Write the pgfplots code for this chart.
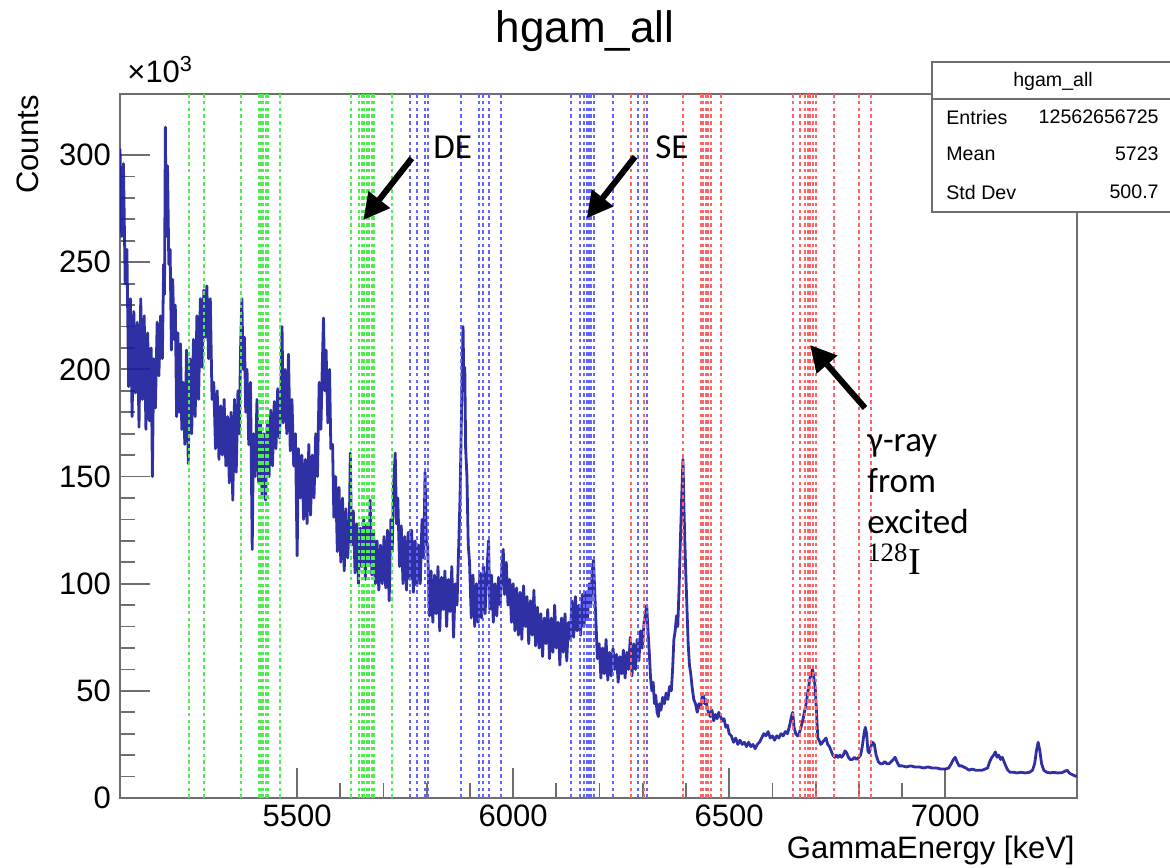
\documentclass[border=0pt]{standalone}
\usepackage{pgfplots}
\pgfplotsset{compat=1.18}
\usepackage{fontspec}
\setmainfont{Liberation Sans}
\newfontfamily\calibri{Carlito}
\newfontfamily\serifI{Liberation Serif}
\usetikzlibrary{arrows.meta}
\definecolor{histblue}{RGB}{26,26,155}
\definecolor{lgreen}{RGB}{80,235,80}
\definecolor{lblue}{RGB}{100,100,255}
\definecolor{lred}{RGB}{255,100,100}
\definecolor{framegray}{RGB}{110,110,110}
\begin{document}
\begin{tikzpicture}
\useasboundingbox (0,0) rectangle (585pt,-433.5pt);
\begin{axis}[
  at={(60pt,-399pt)}, anchor=south west,
  scale only axis, width=478.5pt, height=352pt,
  xmin=5090, xmax=7305, ymin=0, ymax=328.5,
  xtick={5500,6000,6500,7000}, minor x tick num=4,
  ytick={0,50,100,150,200,250,300}, minor y tick num=4,
  xtick pos=bottom, ytick pos=left, tick align=inside,
  major tick length=15pt, minor tick length=7.5pt,
  every tick/.style={framegray, line width=0.9pt},
  axis line style={framegray, line width=1pt},
  scaled ticks=false,
  /pgf/number format/assume math mode=true,
  /pgf/number format/1000 sep={},
  tick label style={font=\fontsize{15.5}{18}\selectfont},
  xticklabel style={yshift=0pt},
  yticklabel style={xshift=-1pt},
  clip=true,
]
\addplot[color=histblue, line width=1.4pt, opacity=0.9, mark=none, line join=round] coordinates {
(5090,303)(5094,262)(5098,296)(5102,240)(5106,256)(5110,192)(5114,233)(5118,178)(5122,227)(5126,189)
(5130,222)(5134,173)(5138,233)(5142,186)(5146,225)(5150,172)(5154,217)(5158,176)(5162,210)(5165,150)
(5168,205)(5172,182)(5176,222)(5180,197)(5184,225)(5188,205)(5191,249)(5193,235)(5195,313)(5197,262)
(5200,295)(5203,249)(5206,256)(5209,209)(5212,242)(5215,214)(5218,230)(5221,178)(5224,217)(5227,180)
(5230,212)(5233,172)(5236,194)(5240,165)(5244,209)(5248,156)(5252,205)(5256,170)(5260,214)(5264,178)
(5268,225)(5272,186)(5276,233)(5280,201)(5284,237)(5288,215)(5291,239)(5295,205)(5299,233)(5303,186)
(5307,194)(5311,163)(5315,190)(5319,158)(5323,183)(5327,160)(5331,186)(5335,155)(5339,178)(5343,147)
(5347,180)(5351,139)(5355,186)(5359,152)(5363,190)(5366,170)(5369,209)(5372,233)(5375,200)(5378,215)
(5381,180)(5384,200)(5388,165)(5392,194)(5396,116)(5399,170)(5403,150)(5407,186)(5411,147)(5415,175)
(5419,140)(5423,170)(5427,139)(5431,176)(5435,150)(5439,181)(5443,155)(5447,185)(5451,163)(5455,191)
(5459,168)(5462,185)(5465,220)(5468,175)(5472,200)(5476,170)(5480,207)(5484,162)(5488,186)(5492,155)
(5496,170)(5500,113)(5503,163)(5507,140)(5511,160)(5515,130)(5519,158)(5523,128)(5527,165)(5531,132)
(5535,160)(5539,140)(5543,170)(5547,150)(5551,194)(5555,172)(5558,200)(5561,224)(5564,190)(5567,209)
(5571,175)(5575,200)(5578,163)(5582,165)(5585,131)(5589,150)(5593,115)(5597,145)(5601,110)(5605,140)
(5609,106)(5613,135)(5617,112)(5621,130)(5623,161)(5626,118)(5630,134)(5634,105)(5638,128)(5642,100)
(5646,126)(5650,108)(5654,130)(5658,102)(5662,128)(5666,110)(5669,139)(5673,104)(5677,124)(5681,100)
(5685,120)(5689,97)(5693,118)(5697,100)(5701,122)(5705,98)(5709,125)(5713,92)(5717,130)(5720,115)
(5723,145)(5727,161)(5730,128)(5733,140)(5737,108)(5741,127)(5745,100)(5749,122)(5753,97)(5757,124)
(5761,102)(5765,125)(5769,96)(5773,120)(5777,99)(5781,118)(5785,100)(5789,130)(5793,112)(5796,152)
(5799,120)(5802,118)(5806,85)(5810,106)(5814,82)(5818,104)(5822,86)(5826,108)(5830,78)(5834,103)
(5838,88)(5842,106)(5846,80)(5850,102)(5854,87)(5858,108)(5862,75)(5866,100)(5870,90)(5874,118)
(5877,140)(5880,175)(5882,200)(5884,220)(5886,190)(5888,201)(5890,163)(5893,150)(5896,118)(5899,110)
(5903,84)(5907,104)(5911,80)(5915,100)(5919,82)(5923,105)(5927,84)(5931,108)(5935,86)(5939,105)
(5943,120)(5946,88)(5950,104)(5954,82)(5958,100)(5962,85)(5966,103)(5970,90)(5974,108)(5977,116)
(5980,95)(5984,110)(5988,90)(5992,102)(5996,82)(6000,100)(6004,78)(6008,98)(6012,76)(6016,96)
(6020,74)(6024,99)(6028,80)(6032,94)(6036,72)(6040,92)(6044,76)(6048,97)(6052,71)(6056,89)
(6060,70)(6064,86)(6068,66)(6072,84)(6076,72)(6080,88)(6084,65)(6088,84)(6092,68)(6096,90)
(6100,70)(6104,82)(6108,62)(6112,84)(6116,68)(6120,86)(6124,64)(6128,82)(6132,74)(6136,92)
(6140,75)(6144,94)(6148,78)(6152,90)(6156,76)(6160,95)(6164,80)(6168,96)(6172,84)(6176,100)
(6180,90)(6183,106)(6186,111)(6189,95)(6192,80)(6195,65)(6199,72)(6203,56)(6207,70)(6211,58)
(6215,74)(6219,55)(6223,68)(6227,57)(6231,70)(6235,60)(6239,67)(6243,54)(6247,66)(6251,58)
(6255,69)(6259,56)(6263,68)(6267,60)(6271,75)(6275,57)(6279,72)(6283,60)(6287,74)(6291,64)
(6295,78)(6299,70)(6303,82)(6306,86)(6309,90)(6312,78)(6315,68)(6318,56)(6321,50)(6324,54)
(6327,44)(6330,48)(6333,40)(6336,38)(6339,44)(6342,41)(6346,47)(6350,44)(6354,49)(6358,46)
(6362,52)(6366,50)(6369,60)(6372,74)(6375,78)(6378,85)(6381,80)(6384,98)(6387,120)(6390,140)
(6393,158)(6395,138)(6397,122)(6399,108)(6402,90)(6405,72)(6408,62)(6411,58)(6414,52)(6418,46)
(6422,44)(6426,40)(6430,44)(6434,42)(6437,47)(6440,48)(6443,44)(6446,46)(6449,42)(6452,40)
(6456,38)(6460,41)(6464,36)(6468,39)(6472,37)(6476,40)(6480,38)(6484,36)(6488,37)(6492,33)
(6496,34)(6500,30)(6505,29)(6510,26)(6515,28)(6520,25)(6525,27)(6530,25)(6535,26)(6540,24)
(6545,26)(6550,24)(6555,25)(6560,23)(6565,25)(6570,26)(6575,28)(6580,30)(6585,29)(6590,31)
(6595,28)(6600,29)(6605,27)(6610,29)(6615,28)(6620,30)(6625,29)(6630,31)(6635,30)(6640,34)
(6644,38)(6647,40)(6650,33)(6654,30)(6658,29)(6662,30)(6666,33)(6670,36)(6674,40)(6678,44)
(6681,48)(6684,52)(6687,56)(6690,58)(6693,60)(6696,56)(6699,52)(6702,40)(6705,28)(6708,27)
(6712,25)(6716,26)(6720,27)(6724,28)(6728,25)(6732,24)(6736,22)(6740,20)(6744,19)(6748,20)
(6752,19)(6756,20)(6760,19)(6764,20)(6768,22)(6772,21)(6776,19)(6780,18)(6785,18)(6790,19)
(6795,18)(6800,19)(6804,20)(6808,24)(6812,30)(6815,33)(6818,30)(6821,22)(6824,21)(6828,24)
(6832,26)(6836,25)(6840,20)(6845,17)(6850,16)(6855,16)(6860,17)(6865,16)(6870,16)(6875,17)
(6880,18)(6884,19)(6888,17)(6893,15)(6900,15)(6910,14.5)(6920,15)(6930,14.5)(6940,14.5)(6950,14)
(6960,14.5)(6970,14)(6980,14)(6990,13.5)(7000,13.5)(7008,14)(7014,16)(7019,18)(7023,19)(7027,17)
(7032,15)(7038,15)(7042,14.5)(7048,14)(7055,13)(7062,13.5)(7070,13)(7078,13)(7086,13)(7092,13.5)
(7098,14)(7103,17)(7108,19)(7112,20)(7116,21.5)(7120,19)(7124,20)(7128,18)(7132,19)(7136,17)
(7140,15)(7145,13)(7150,12)(7158,12)(7166,11.7)(7175,12)(7185,11.7)(7195,12)(7202,13)(7207,16)
(7211,22)(7215,26)(7219,22)(7223,16)(7228,13)(7235,12)(7243,11.7)(7250,12)(7260,11.7)(7270,11.8)
(7277,12.5)(7282,13)(7288,11.5)(7295,10.8)(7304,10)
};
% dotted marker lines
\addplot[ycomb, lgreen, line width=1pt, dash pattern=on 1.8pt off 1.6pt, mark=none] coordinates {
(5250,328.5)(5285,328.5)(5369,328.5)(5411,328.5)(5416,328.5)(5421,328.5)(5427,328.5)(5432,328.5)(5461,328.5)
(5624,328.5)(5643,328.5)(5649,328.5)(5655,328.5)(5661,328.5)(5667,328.5)(5673,328.5)(5677,328.5)(5719,328.5)
};
\addplot[ycomb, lblue, line width=1pt, dash pattern=on 1.8pt off 1.6pt, mark=none] coordinates {
(5762,328.5)(5777,328.5)(5795,328.5)(5804,328.5)(5880,328.5)(5922,328.5)(5931,328.5)(5943,328.5)(5971,328.5)
(6134,328.5)(6155,328.5)(6163,328.5)(6170,328.5)(6175,328.5)(6180,328.5)(6186,328.5)(6230,328.5)(6290,328.5)(6310,328.5)
};
\addplot[ycomb, lred, line width=1pt, dash pattern=on 1.8pt off 1.6pt, mark=none] coordinates {
(6272,328.5)(6302,328.5)(6394,328.5)(6434,328.5)(6440,328.5)(6446,328.5)(6452,328.5)(6457,328.5)(6482,328.5)
(6647,328.5)(6664,328.5)(6676,328.5)(6682,328.5)(6688,328.5)(6694,328.5)(6700,328.5)(6743,328.5)(6800,328.5)(6829,328.5)
};
\end{axis}
\begin{scope}[x=0.5pt,y=-0.5pt]
% title and labels
\node[font=\fontsize{22}{26}\selectfont] at (585,31) {hgam\_all};
\node[anchor=base west, font=\fontsize{15.5}{18}\selectfont, inner sep=0pt] at (127,82) {×10\textsuperscript{3}};
\node[rotate=90, anchor=east, font=\fontsize{15.5}{18}\selectfont, inner sep=0pt] at (28,95) {Counts};
\node[anchor=base east, font=\fontsize{15.5}{18}\selectfont, inner sep=0pt] at (1075,858) {GammaEnergy [keV]};
% stats box
\draw[framegray, fill=white, line width=1pt] (932,62) rectangle (1175,212);
\draw[framegray, line width=1pt] (932,99) -- (1175,99);
\begin{scope}[every node/.style={font=\fontsize{9.8}{12}\selectfont, inner sep=0pt}]
\node at (1053,81) {hgam\_all};
\node[anchor=west] at (946,117) {Entries};
\node[anchor=east] at (1159,117) {12562656725};
\node[anchor=west] at (946,154) {Mean};
\node[anchor=east] at (1159,154) {5723};
\node[anchor=west] at (946,192) {Std Dev};
\node[anchor=east] at (1159,192) {500.7};
\end{scope}
% annotations
\draw[line width=3pt, -{Triangle[length=13pt,width=13pt]}] (411.7,158.3) -- (363.3,220);
\draw[line width=3pt, -{Triangle[length=13pt,width=13pt]}] (635,156.7) -- (586.7,218.3);
\draw[line width=3pt, -{Triangle[length=13pt,width=13pt]}] (865,408) -- (810,345);
\node[anchor=west, font=\calibri\fontsize{17.5}{20}\selectfont, inner sep=0pt] at (433,147) {DE};
\node[anchor=west, font=\calibri\fontsize{17.5}{20}\selectfont, inner sep=0pt] at (655,147) {SE};
\node[anchor=north west, align=left, font=\calibri\fontsize{17.5}{20.5}\selectfont, inner sep=0pt] at (867,434) {γ-ray\\from\\excited\\{\serifI\fontsize{19}{20.5}\selectfont\textsuperscript{128}I}};
\end{scope}
\end{tikzpicture}
\end{document}
